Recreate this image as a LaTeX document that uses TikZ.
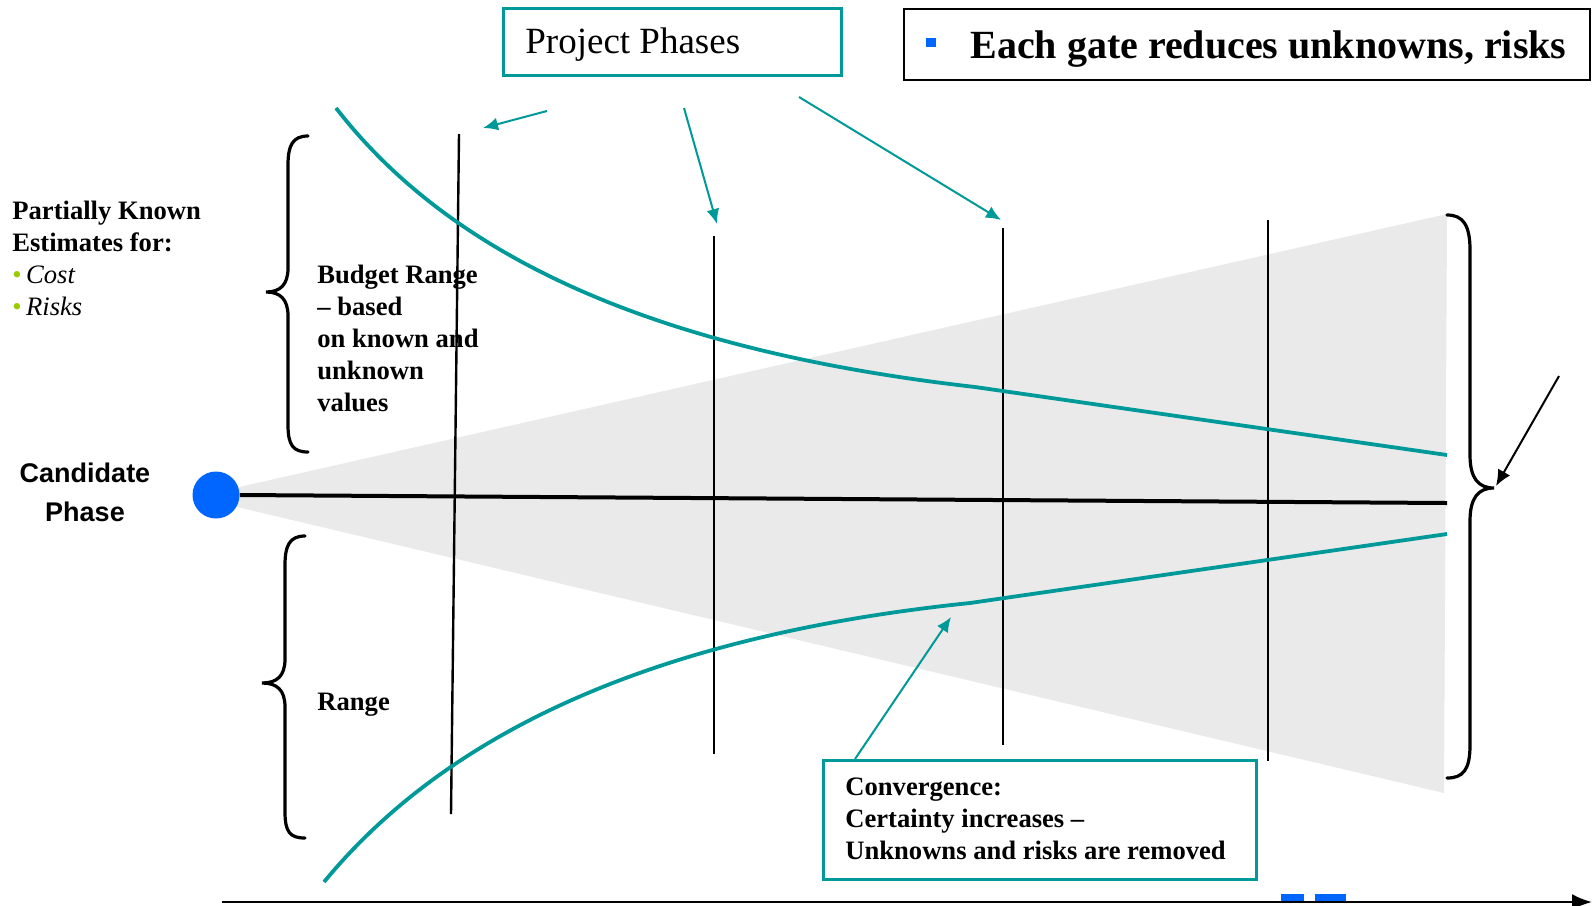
\documentclass[tikz,border=0pt]{standalone}
\usepackage{fontspec}
\setmainfont{Liberation Serif}
\newfontfamily\arialfont{Liberation Sans}
\usetikzlibrary{arrows.meta}
\definecolor{tealc}{RGB}{0,153,153}
\definecolor{conegray}{RGB}{234,234,234}
\definecolor{bulletblue}{RGB}{0,102,255}
\definecolor{bulletgreen}{RGB}{153,204,0}
\tikzset{
  tealbox/.style={draw=tealc, line width=1.5pt, inner sep=0pt},
  blackbox/.style={draw=black, line width=1pt, inner sep=0pt},
  gateline/.style={line width=1.2pt},
  tealcurve/.style={draw=tealc, line width=1.9pt},
  tealarrow/.style={draw=tealc, line width=1pt, -{Latex[length=7.5pt,width=6.5pt]}},
  bracestyle/.style={line width=1.6pt, line cap=round},
  lbl/.style={font=\bfseries\fontsize{13.3}{16}\selectfont, align=left, inner sep=0pt, anchor=west},
}
\begin{document}
\begin{tikzpicture}[x=0.5pt,y=-0.5pt]
\useasboundingbox (0,0) rectangle (1593,905);

% cone
\fill[conegray] (195,497) -- (1447,214) -- (1444,793) -- cycle;

% gate lines
\coordinate (g1t) at (459,134); \coordinate (g1b) at (451,814);
\coordinate (g2t) at (714,236); \coordinate (g2b) at (714,754);
\coordinate (g3t) at (1003,228); \coordinate (g3b) at (1003,745);
\coordinate (g4t) at (1268,220); \coordinate (g4b) at (1268,761);
\draw[gateline] (g1t) -- (g1b);
\draw[gateline] (g2t) -- (g2b);
\draw[gateline] (g3t) -- (g3b);
\draw[gateline] (g4t) -- (g4b);

% candidate circle and center line
\node[circle, fill=bulletblue, minimum size=23.5pt, inner sep=0pt] (cand) at (216,495) {};
\coordinate (cend) at (1447,503);
\draw[line width=2pt] (cand.east) -- (cend);

% teal curves
\draw[tealcurve] (336,108) .. controls (450,255) and (650,350) .. (975,387) -- (1447,455);
\draw[tealcurve] (324,882) .. controls (445,735) and (650,636) .. (970,603) -- (1447,534);

% braces
\draw[bracestyle] (308,136) .. controls (293,136) and (288,145) .. (288,165) -- (288,268)
  .. controls (288,285) and (280,292) .. (266,292) .. controls (280,292) and (288,299) .. (288,316)
  -- (288,425) .. controls (288,445) and (293,452) .. (308,452);
\draw[bracestyle] (305,536) .. controls (290,536) and (285,545) .. (285,565) -- (285,659)
  .. controls (285,676) and (277,683) .. (262,683) .. controls (277,683) and (285,690) .. (285,707)
  -- (285,812) .. controls (285,832) and (290,838) .. (305,838);
\draw[bracestyle] (1447,215) .. controls (1463,215) and (1470,225) .. (1470,250) -- (1470,455)
  .. controls (1470,478) and (1478,488) .. (1494,488) .. controls (1478,488) and (1470,498) .. (1470,521)
  -- (1470,745) .. controls (1470,770) and (1463,778) .. (1447,778);

% right black arrow
\coordinate (rs) at (1559,376);
\coordinate (rtip) at (1496,486);
\draw[line width=1pt, -{Latex[length=8pt,width=7pt]}] (rs) -- (rtip);

% top boxes
\node[tealbox, anchor=north west, minimum width=169pt, minimum height=33.5pt] (pp) at (502,7) {};
\node[anchor=base west, inner sep=0pt, font=\fontsize{18.5}{22}\selectfont] (pptext) at (525,53) {Project Phases};
\node[blackbox, anchor=north west, minimum width=343pt, minimum height=35.5pt] (gatebox) at (903,8) {};
\node[fill=bulletblue, minimum size=4.7pt, inner sep=0pt] (gbullet) at (931,42.5) {};
\node[anchor=base west, inner sep=0pt, font=\bfseries\fontsize{20}{24}\selectfont] (gatetext) at (970,58) {Each gate reduces unknowns, risks};

% teal arrows from project phases
\coordinate (a1s) at (547,111); \coordinate (a1e) at (483,128);
\coordinate (a2s) at (684,108); \coordinate (a2e) at (717,224);
\coordinate (a3s) at (799,97);  \coordinate (a3e) at (1001,220);
\draw[tealarrow] (a1s) -- (a1e);
\draw[tealarrow] (a2s) -- (a2e);
\draw[tealarrow] (a3s) -- (a3e);

% left texts
\node[lbl] (pk) at (12,258) {Partially Known\\Estimates for:\\{\mdseries\color{bulletgreen}\textbullet}\,{\mdseries\itshape Cost}\\{\mdseries\color{bulletgreen}\textbullet}\,{\mdseries\itshape Risks}};
\node[lbl] (budget) at (317,338) {Budget Range\\– based\\on known and\\unknown\\values};
\node[lbl, anchor=base west] (range) at (317,710) {Range};
\node[inner sep=0pt, align=center, font=\arialfont\bfseries\fontsize{13.5}{19.5}\selectfont] (candtext) at (85,492) {Candidate\\Phase};

% convergence box
\node[tealbox, anchor=north west, minimum width=216.5pt, minimum height=59.5pt] (conv) at (822,759) {};
\node[lbl] (convtext) at (845,819) {Convergence:\\Certainty increases –\\Unknowns and risks are removed};
\coordinate (cs) at (855,759);
\coordinate (ce) at (951,617);
\draw[tealarrow] (cs) -- (ce);

% bottom axis
\fill[bulletblue] (1281,894) rectangle (1304,903);
\fill[bulletblue] (1315,894) rectangle (1346,903);
\coordinate (axs) at (222,902);
\coordinate (axe) at (1592,902);
\draw[line width=1.2pt, -{Latex[length=10pt,width=8pt]}] (axs) -- (axe);
\end{tikzpicture}
\end{document}
